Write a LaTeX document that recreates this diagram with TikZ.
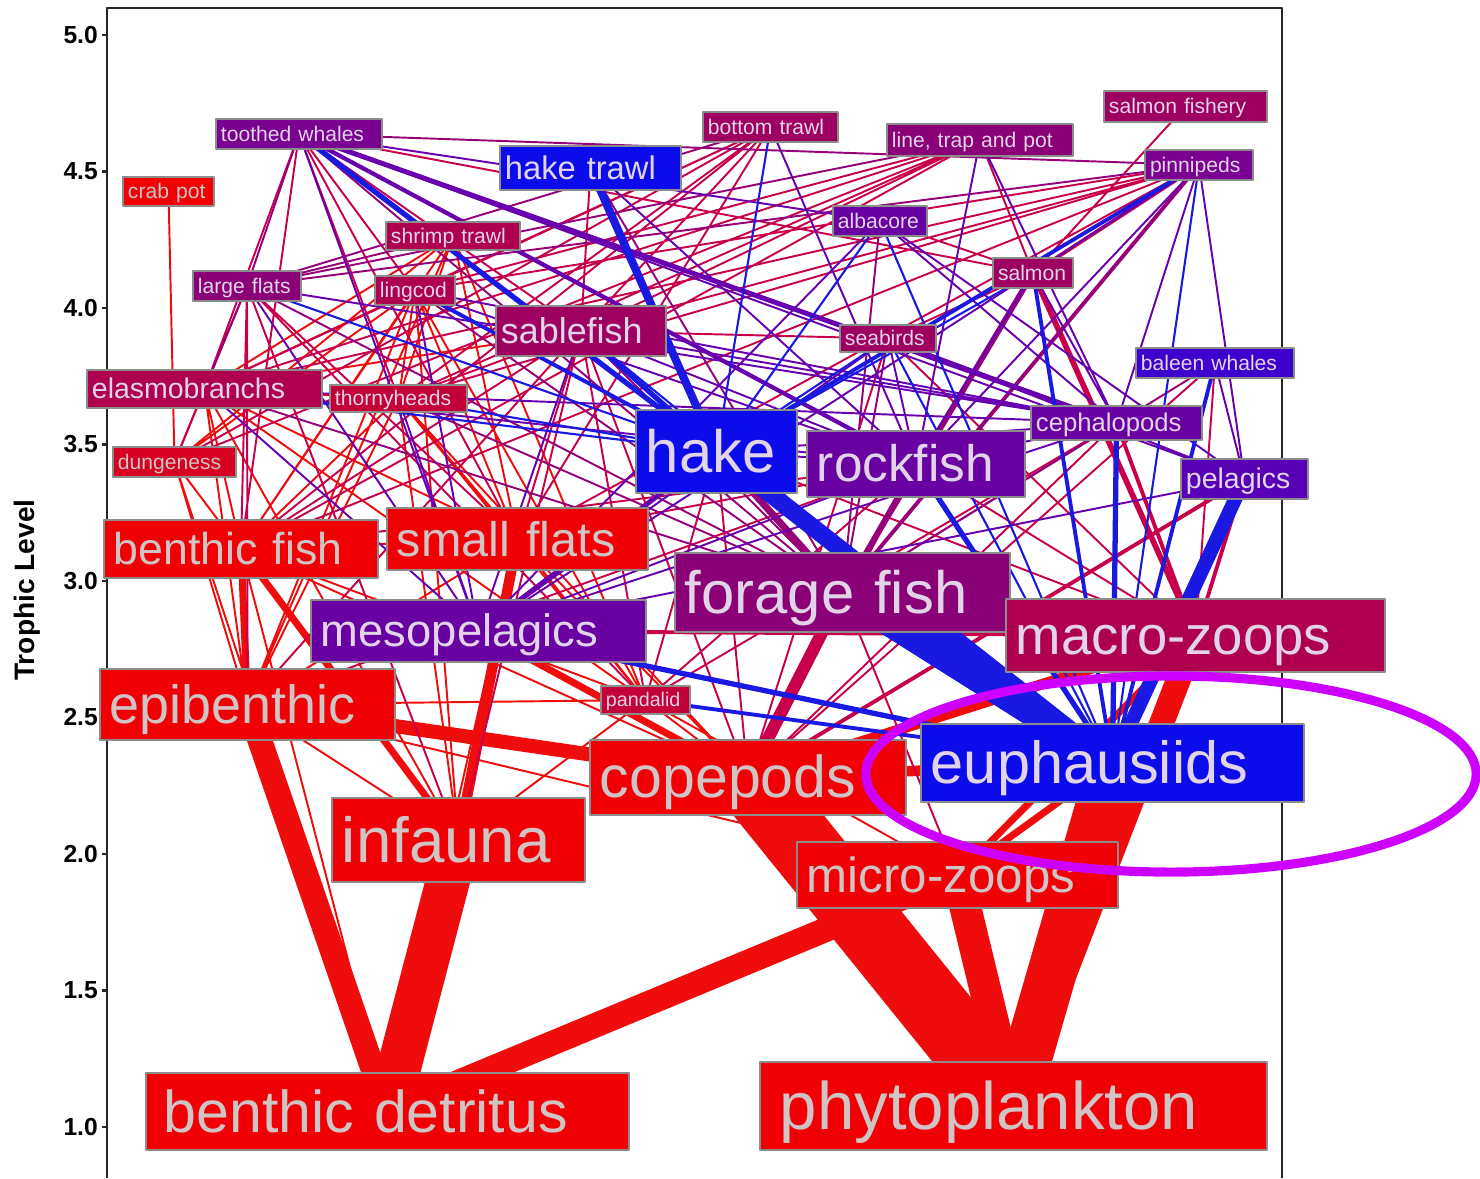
\documentclass[tikz,border=0pt]{standalone}
\usepackage{fontspec}
\setmainfont{Liberation Sans}
\usetikzlibrary{backgrounds}
\definecolor{fwred}{RGB}{240,0,5}
\definecolor{fwscarlet}{RGB}{215,0,35}
\definecolor{fwcrimson}{RGB}{195,0,55}
\definecolor{fwrose}{RGB}{175,0,80}
\definecolor{fwmagenta}{RGB}{158,0,98}
\definecolor{fwplum}{RGB}{138,0,118}
\definecolor{fwpurple}{RGB}{122,0,145}
\definecolor{fwviolet}{RGB}{105,0,162}
\definecolor{fwiris}{RGB}{88,0,182}
\definecolor{fwindigo}{RGB}{62,0,205}
\definecolor{fwblue}{RGB}{12,12,235}
\definecolor{labelpale}{RGB}{226,212,232}
\definecolor{labelgray}{RGB}{208,196,196}
\definecolor{linkred}{RGB}{238,12,12}
\definecolor{linkrose}{RGB}{200,0,75}
\definecolor{linkplum}{RGB}{150,0,120}
\definecolor{linkviolet}{RGB}{105,0,175}
\definecolor{linkblue}{RGB}{25,25,225}
\definecolor{ringmag}{RGB}{205,0,255}
\tikzset{
  fwbox/.style={draw=black!45,line width=0.5pt,inner ysep=0pt,align=left,text=labelpale,
    execute at begin node={\rule[-0.2em]{0pt}{1.1em}}},
  smallbox/.style={fwbox,inner xsep=0.05cm,font=\fontsize{6}{7}\selectfont},
  bigbox/.style={fwbox,inner xsep=0.1cm},
  redbox/.style={fill=fwred,text=labelgray},
  redlink/.style={draw=linkred},
  roselink/.style={draw=linkrose},
  plumlink/.style={draw=linkplum},
  violetlink/.style={draw=linkviolet},
  bluelink/.style={draw=linkblue},
  ring/.style={draw=ringmag,line width=2.6pt}
}
\begin{document}
\begin{tikzpicture}[x=0.01cm,y=-0.01cm,join=round]% food web by trophic level
        \useasboundingbox (0,0) rectangle (1480,1178);
        \draw[line width=0.6pt,black!85] (107,1178)--(107,8)--(1282,8)--(1282,1178);
        \draw[line width=0.6pt,black!85] (102,35)--(107,35) (102,171.5)--(107,171.5) (102,308)--(107,308)
                (102,444.5)--(107,444.5) (102,581)--(107,581) (102,717.5)--(107,717.5)
                (102,854)--(107,854) (102,990.5)--(107,990.5) (102,1127)--(107,1127);
        \fill[black,font=\fontsize{7}{8}\selectfont\bfseries]
                (102,35) node [left,inner sep=1pt] (t50) {5.0}
                (102,171.5) node [left,inner sep=1pt] (t45) {4.5}
                (102,308) node [left,inner sep=1pt] (t40) {4.0}
                (102,444.5) node [left,inner sep=1pt] (t35) {3.5}
                (102,581) node [left,inner sep=1pt] (t30) {3.0}
                (102,717.5) node [left,inner sep=1pt] (t25) {2.5}
                (102,854) node [left,inner sep=1pt] (t20) {2.0}
                (102,990.5) node [left,inner sep=1pt] (t15) {1.5}
                (102,1127) node [left,inner sep=1pt] (t10) {1.0};
        \node[rotate=90,font=\fontsize{8}{9}\selectfont\bfseries] (ylabel) at (27,590) {Trophic Level};
        \node[smallbox,fill=fwpurple,text width=1.56cm,minimum height=0.30cm] (tw) at (299,134) {toothed whales};
        \node[smallbox,redbox,text width=0.81cm,minimum height=0.29cm] (cp) at (168.5,191.5) {crab pot};
        \node[smallbox,fill=fwmagenta,text width=1.25cm,minimum height=0.30cm] (bt) at (770.5,127) {bottom trawl};
        \node[smallbox,fill=fwplum,text width=1.76cm,minimum height=0.32cm] (ltp) at (980,140) {line, trap and pot};
        \node[smallbox,fill=fwmagenta,text width=1.53cm,minimum height=0.31cm] (sf) at (1185.5,106.5) {salmon fishery};
        \node[smallbox,fill=fwpurple,text width=0.98cm,minimum height=0.30cm] (pin) at (1199,165) {pinnipeds};
        \node[smallbox,fill=fwblue,font=\fontsize{9.3}{11}\selectfont,text width=1.71cm,minimum height=0.44cm] (ht) at (590.5,168) {hake trawl};
        \node[smallbox,fill=fwrose,text width=1.24cm,minimum height=0.28cm] (st) at (453,236) {shrimp trawl};
        \node[smallbox,fill=fwviolet,text width=0.84cm,minimum height=0.30cm] (alb) at (880,221) {albacore};
        \node[smallbox,fill=fwmagenta,text width=0.70cm,minimum height=0.30cm] (sal) at (1033,273) {salmon};
        \node[smallbox,fill=fwplum,text width=0.98cm,minimum height=0.30cm] (lf) at (247,286) {large flats};
        \node[smallbox,fill=fwrose,text width=0.70cm,minimum height=0.29cm] (lc) at (415,290.5) {lingcod};
        \node[smallbox,fill=fwmagenta,font=\fontsize{10.2}{12}\selectfont,text width=1.60cm,minimum height=0.50cm] (sab) at (581,331) {sablefish};
        \node[smallbox,fill=fwmagenta,text width=0.86cm,minimum height=0.27cm] (sb) at (888,338.5) {seabirds};
        \node[smallbox,fill=fwindigo,text width=1.48cm,minimum height=0.30cm] (bw) at (1215,363) {baleen whales};
        \node[smallbox,fill=fwrose,font=\fontsize{8.1}{10}\selectfont,text width=2.25cm,minimum height=0.38cm] (ela) at (204.5,389) {elasmobranchs};
        \node[smallbox,fill=fwcrimson,text width=1.27cm,minimum height=0.27cm] (th) at (398.5,398.5) {thornyheads};
        \node[bigbox,fill=fwblue,font=\fontsize{17}{20}\selectfont,text width=1.41cm,minimum height=0.83cm] (hk) at (716.5,451.5) {hake};
        \node[bigbox,fill=fwviolet,font=\fontsize{14.6}{17}\selectfont,text width=1.98cm,minimum height=0.66cm] (rf) at (916,464) {rockfish};
        \node[smallbox,fill=fwviolet,font=\fontsize{7.3}{9}\selectfont,text width=1.61cm,minimum height=0.34cm] (ceph) at (1116.5,423) {cephalopods};
        \node[smallbox,fill=fwscarlet,text=labelgray,text width=1.13cm,minimum height=0.30cm] (dun) at (174.5,462) {dungeness};
        \node[smallbox,fill=fwiris,font=\fontsize{8.1}{10}\selectfont,text width=1.17cm,minimum height=0.40cm] (pel) at (1244.5,479) {pelagics};
        \node[bigbox,redbox,font=\fontsize{12.7}{15}\selectfont,text width=2.54cm,minimum height=0.58cm] (bf) at (241,549) {benthic fish};
        \node[bigbox,redbox,font=\fontsize{13.8}{16}\selectfont,text width=2.41cm,minimum height=0.62cm] (sfl) at (517.5,539) {small flats};
        \node[bigbox,fill=fwplum,font=\fontsize{17}{20}\selectfont,text width=3.15cm,minimum height=0.79cm] (ff) at (842.5,592.5) {forage fish};
        \node[bigbox,fill=fwviolet,font=\fontsize{12.9}{15}\selectfont,text width=3.15cm,minimum height=0.62cm] (meso) at (478.5,631) {mesopelagics};
        \node[bigbox,fill=fwrose,font=\fontsize{15.5}{18}\selectfont,text width=3.59cm,minimum height=0.73cm] (mz) at (1195.5,635.5) {macro-zoops};
        \node[bigbox,redbox,font=\fontsize{15.3}{18}\selectfont,text width=2.75cm,minimum height=0.71cm] (epi) at (247.5,704.5) {epibenthic};
        \node[smallbox,fill=fwcrimson,font=\fontsize{5.6}{7}\selectfont,text width=0.79cm,minimum height=0.28cm] (pan) at (645.5,700) {pandalid};
        \node[bigbox,redbox,font=\fontsize{16.8}{20}\selectfont,text width=2.96cm,minimum height=0.75cm] (cop) at (748,777.5) {copepods};
        \node[bigbox,fill=fwblue,font=\fontsize{16.9}{20}\selectfont,text width=3.63cm,minimum height=0.78cm] (eup) at (1112.5,763) {euphausiids};
        \node[bigbox,redbox,font=\fontsize{18.1}{21}\selectfont,text width=2.33cm,minimum height=0.84cm] (inf) at (458.5,840) {infauna};
        \node[bigbox,redbox,font=\fontsize{14}{17}\selectfont,text width=3.01cm,minimum height=0.66cm] (mic) at (957.5,875) {micro-zoops};
        \node[bigbox,redbox,inner xsep=0.18cm,font=\fontsize{16.8}{20}\selectfont,text width=4.47cm,minimum height=0.77cm] (bd) at (387.5,1111.5) {benthic detritus};
        \node[bigbox,redbox,inner xsep=0.2cm,font=\fontsize{19.1}{22}\selectfont,text width=4.67cm,minimum height=0.88cm] (phy) at (1013.5,1106) {phytoplankton};
        \begin{scope}[on background layer]
        \draw[redlink,line width=20pt] (phy.center)--(cop.center);
        \draw[redlink,line width=14pt] (phy.center)--(eup.center);
        \draw[redlink,line width=12.5pt] (bd.center)--(inf.center);
        \draw[redlink,line width=9pt] (phy.center)--(mic.center);
        \draw[redlink,line width=7pt] (phy.center)--(mz.center) (bd.center)--(mic.center) (bd.center)--(epi.center);
        \draw[redlink,line width=4pt] (cop.center)--(epi.center);
        \draw[redlink,line width=3pt] (cop.center)--(mz.center) (cop.center)--(eup.center) (inf.center)--(sfl.center);
        \draw[redlink,line width=2pt] (mic.center)--(eup.center) (mic.center)--(mz.center) (cop.center)--(meso.center)
                (epi.center)--(bf.center) (inf.center)--(bf.center);
        \draw[roselink,line width=3.5pt] (cop.center)--(ff.center);
        \draw[redlink,line width=0.55pt] (dun.center)--(cp.center)
                (pan.center)--(bf.center) (cop.center)--(bf.center) (bd.center)--(bf.center) (sfl.center)--(bf.center)
                (epi.center)--(sfl.center) (pan.center)--(sfl.center) (cop.center)--(sfl.center) (bd.center)--(sfl.center)
                (epi.center)--(dun.center) (inf.center)--(dun.center) (bd.center)--(dun.center)
                (bf.center)--(th.center) (epi.center)--(th.center) (inf.center)--(th.center) (pan.center)--(th.center)
                (sfl.center)--(th.center) (cop.center)--(th.center)
                (pan.center)--(epi.center) (mic.center)--(epi.center) (inf.center)--(epi.center)
                (cop.center)--(pan.center) (mic.center)--(pan.center) (inf.center)--(pan.center)
                (pan.center)--(st.center) (sfl.center)--(st.center) (bf.center)--(st.center) (th.center)--(st.center)
                (epi.center)--(st.center) (dun.center)--(st.center) (ela.center)--(st.center)
                (bf.center)--(lc.center) (sfl.center)--(lc.center) (epi.center)--(lc.center) (dun.center)--(lc.center)
                (pan.center)--(lc.center) (th.center)--(lc.center) (inf.center)--(lc.center)
                (bf.center)--(ela.center) (sfl.center)--(ela.center) (epi.center)--(ela.center) (inf.center)--(ela.center)
                (dun.center)--(ela.center) (th.center)--(ela.center) (pan.center)--(ela.center) (lc.center)--(ela.center)
                (sab.center)--(ela.center);
        \draw[roselink,line width=0.55pt] (bf.center)--(bt.center) (sfl.center)--(bt.center) (th.center)--(bt.center)
                (dun.center)--(bt.center) (ela.center)--(bt.center) (lc.center)--(bt.center) (sab.center)--(bt.center)
                (dun.center)--(ltp.center) (th.center)--(ltp.center) (bf.center)--(ltp.center) (ela.center)--(ltp.center)
                (lc.center)--(ltp.center) (sab.center)--(ltp.center) (sal.center)--(ltp.center)
                (bf.center)--(lf.center) (sfl.center)--(lf.center) (epi.center)--(lf.center) (inf.center)--(lf.center)
                (pan.center)--(lf.center) (dun.center)--(lf.center)
                (bf.center)--(sab.center) (sfl.center)--(sab.center) (epi.center)--(sab.center) (th.center)--(sab.center)
                (pan.center)--(sab.center) (inf.center)--(sab.center) (cop.center)--(sab.center)
                (pan.center)--(hk.center) (cop.center)--(hk.center) (mz.center)--(hk.center)
                (pan.center)--(rf.center) (sfl.center)--(rf.center) (epi.center)--(rf.center) (bf.center)--(rf.center)
                (mz.center)--(rf.center) (cop.center)--(ceph.center) (pan.center)--(ceph.center) (mic.center)--(ff.center)
                (cop.center)--(sb.center) (sal.center)--(sb.center) (mz.center)--(sb.center) (sab.center)--(sb.center)
                (cop.center)--(bw.center) (mz.center)--(bw.center)
                (sal.center)--(tw.center) (lc.center)--(tw.center) (sab.center)--(tw.center) (ela.center)--(tw.center)
                (sfl.center)--(tw.center) (bf.center)--(tw.center) (th.center)--(tw.center)
                (lc.center)--(pin.center) (sab.center)--(pin.center) (ela.center)--(pin.center) (th.center)--(pin.center)
                (sfl.center)--(pin.center) (bf.center)--(pin.center)
                (sal.center)--(sf.center) (sab.center)--(ht.center) (sal.center)--(alb.center);
        \draw[roselink,line width=1.1pt] (sal.center)--(pin.center) (mz.center)--(ceph.center) (mz.center)--(meso.center)
                (mz.center)--(pel.center) (cop.center)--(pel.center) (cop.center)--(rf.center);
        \draw[roselink,line width=1.6pt] (mz.center)--(sal.center) (mz.center)--(ff.center);
        \draw[plumlink,line width=0.55pt] (pin.center)--(tw.center) (lf.center)--(tw.center) (ff.center)--(tw.center)
                (lf.center)--(pin.center) (lf.center)--(bt.center) (lf.center)--(ltp.center) (lf.center)--(st.center)
                (ff.center)--(ht.center) (ff.center)--(alb.center) (ff.center)--(sb.center) (ff.center)--(bw.center)
                (ff.center)--(ela.center) (ff.center)--(th.center) (ff.center)--(lc.center) (ff.center)--(lf.center)
                (ff.center)--(sab.center) (ff.center)--(ceph.center) (lf.center)--(ela.center);
        \draw[plumlink,line width=1.1pt] (ff.center)--(pin.center) (ff.center)--(rf.center);
        \draw[plumlink,line width=1.6pt] (ff.center)--(sal.center);
        \draw[plumlink,line width=2pt] (ff.center)--(hk.center);
        \draw[violetlink,line width=0.55pt] (alb.center)--(tw.center) (rf.center)--(pin.center) (ceph.center)--(pin.center)
                (pel.center)--(pin.center) (meso.center)--(pin.center) (pel.center)--(tw.center) (meso.center)--(tw.center)
                (rf.center)--(ltp.center) (ceph.center)--(ltp.center) (rf.center)--(bt.center) (rf.center)--(ht.center)
                (ceph.center)--(alb.center) (meso.center)--(alb.center) (pel.center)--(alb.center)
                (ceph.center)--(sal.center) (rf.center)--(sal.center)
                (rf.center)--(sb.center) (meso.center)--(sb.center) (ceph.center)--(sb.center) (pel.center)--(sb.center)
                (pel.center)--(bw.center) (meso.center)--(ela.center) (ceph.center)--(ela.center) (rf.center)--(ela.center)
                (meso.center)--(th.center) (rf.center)--(lc.center) (ceph.center)--(lc.center) (meso.center)--(lc.center)
                (meso.center)--(lf.center) (ceph.center)--(lf.center)
                (meso.center)--(sab.center) (ceph.center)--(sab.center) (rf.center)--(sab.center)
                (ceph.center)--(hk.center) (rf.center)--(hk.center) (ceph.center)--(rf.center) (meso.center)--(rf.center)
                (meso.center)--(ceph.center) (meso.center)--(pel.center);
        \draw[violetlink,line width=1.2pt] (rf.center)--(tw.center);
        \draw[violetlink,line width=1.4pt] (ceph.center)--(tw.center) (meso.center)--(hk.center);
        \draw[bluelink,line width=0.6pt] (hk.center)--(bt.center) (hk.center)--(alb.center) (hk.center)--(sal.center)
                (hk.center)--(sb.center) (hk.center)--(lf.center) (hk.center)--(ela.center) (hk.center)--(th.center)
                (eup.center)--(alb.center) (eup.center)--(sb.center) (eup.center)--(sab.center) (eup.center)--(pin.center);
        \draw[bluelink,line width=1.1pt] (hk.center)--(pin.center) (hk.center)--(lc.center) (eup.center)--(sal.center)
                (eup.center)--(bw.center) (eup.center)--(pan.center);
        \draw[bluelink,line width=1.5pt] (eup.center)--(ceph.center) (hk.center)--(sab.center) (eup.center)--(rf.center)
                (eup.center)--(meso.center) (hk.center)--(tw.center);
        \draw[bluelink,line width=2.3pt] (hk.center)--(ht.center);
        \draw[bluelink,line width=4pt] (eup.center)--(pel.center);
        \draw[bluelink,line width=5pt] (eup.center)--(hk.center);
        \draw[bluelink,line width=8pt] (eup.center)--(ff.center);
        \end{scope}
        \draw[ring] (1171,774) ellipse [x radius=3.05cm, y radius=0.98cm];
\end{tikzpicture}
\end{document}
